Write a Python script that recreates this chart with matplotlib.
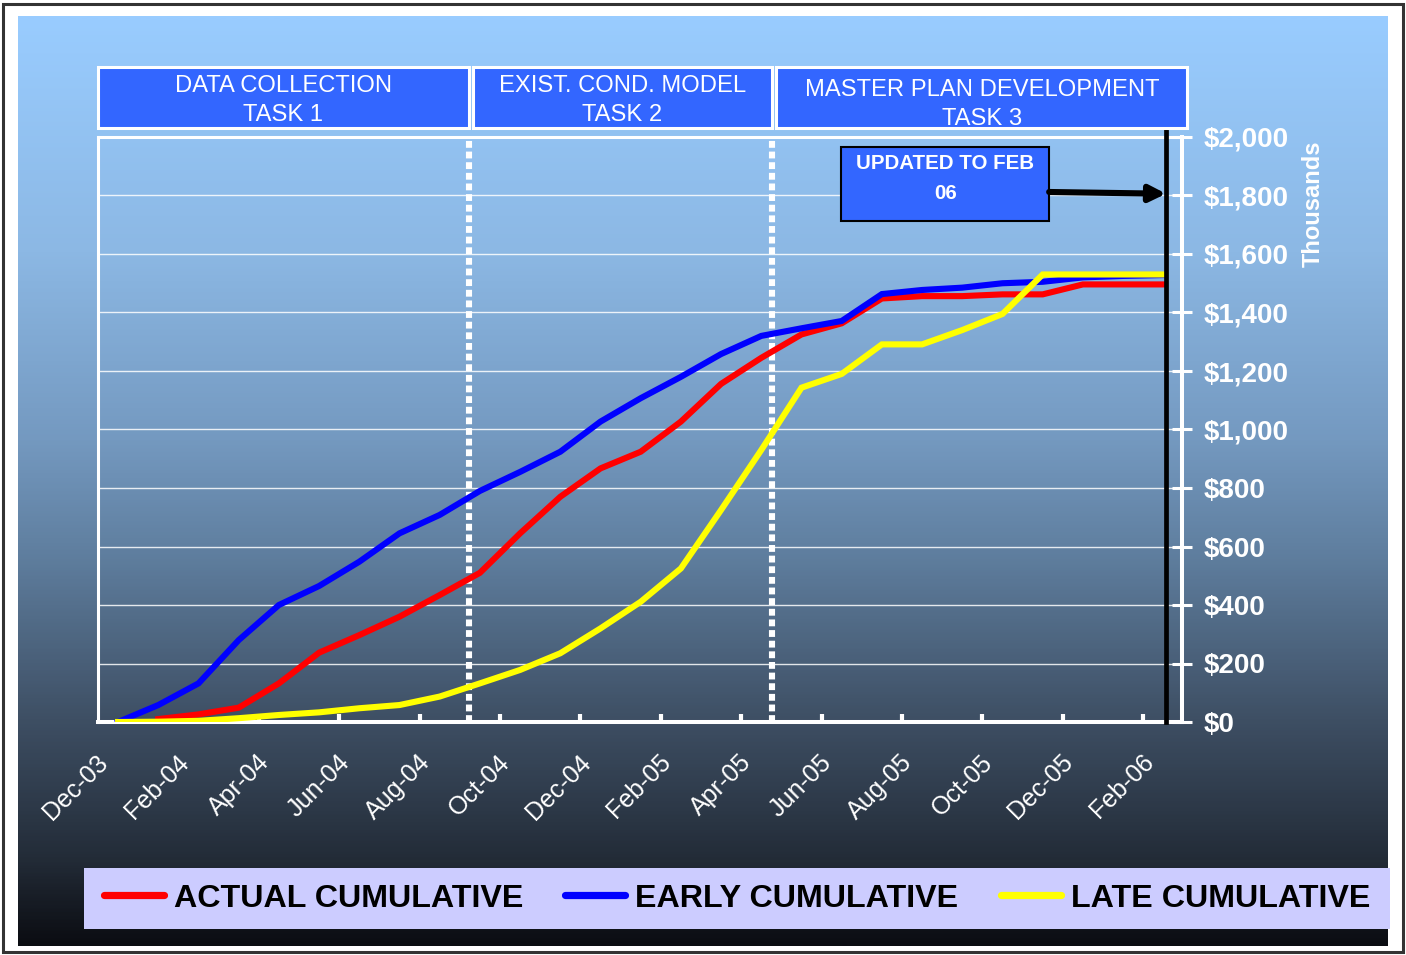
import numpy as np
import matplotlib
matplotlib.use("Agg")
import matplotlib.pyplot as plt
from matplotlib.colors import LinearSegmentedColormap
from matplotlib.patches import Rectangle
from matplotlib.ticker import FuncFormatter, FixedLocator, NullFormatter
from matplotlib.transforms import ScaledTranslation, blended_transform_factory

# ---------------- data: cumulative cost, thousands of dollars ----------------
months = ["Dec-03", "Jan-04", "Feb-04", "Mar-04", "Apr-04", "May-04", "Jun-04",
          "Jul-04", "Aug-04", "Sep-04", "Oct-04", "Nov-04", "Dec-04", "Jan-05",
          "Feb-05", "Mar-05", "Apr-05", "May-05", "Jun-05", "Jul-05", "Aug-05",
          "Sep-05", "Oct-05", "Nov-05", "Dec-05", "Jan-06", "Feb-06"]

actual = [np.nan, 10, 26, 49, 132, 237, 297, 360, 434, 510, 645, 770, 867, 924,
          1027, 1156, 1245, 1325, 1363, 1448, 1456, 1456, 1462, 1462, 1496, 1496, 1496]
early = [0, 58, 132, 280, 400, 465, 548, 645, 708, 790, 855, 924, 1027, 1107,
         1180, 1258, 1320, 1346, 1371, 1463, 1477, 1485, 1500, 1505, 1520, 1525, 1528]
late = [0, 1, 4, 13, 24, 33, 47, 58, 87, 132, 178, 235, 320, 411,
        525, 725, 930, 1143, 1190, 1291, 1291, 1340, 1395, 1530, 1530, 1530, 1530]

series_names = ["ACTUAL CUMULATIVE", "EARLY CUMULATIVE", "LATE CUMULATIVE"]
tick_labels = months[::2]
y_ticks = list(range(0, 2001, 200))

task_labels = ["DATA COLLECTION\nTASK 1",
               "EXIST. COND. MODEL\nTASK 2",
               "MASTER PLAN DEVELOPMENT\nTASK 3"]
status_text = "UPDATED TO FEB\n06"

# ---------------- layout ----------------
W, H = 1406, 955
phase_edges = [-0.51, 8.72, 16.27, 26.60]   # month positions of task boundaries
box_gap = 0.10
status_pos = 26.07                           # data-date marker (months from Dec-03)
SANS = "Liberation Sans"

fig = plt.figure(figsize=(W / 100, H / 100), dpi=100, facecolor="white")

# background panel with vertical gradient and outer frame
bg = fig.add_axes([0, 0, 1, 1], zorder=0)
bg.set_xlim(0, W)
bg.set_ylim(H, 0)
bg.axis("off")
panel_top, panel_bot = 17, 946
stops = [(0.0, "#99CCFF"), (0.251, "#8CB8E4"), (0.455, "#7499C0"),
         (0.585, "#5E7D9D"), (0.757, "#3E4F64"), (0.907, "#232C38"), (1.0, "#0B0D12")]
cmap = LinearSegmentedColormap.from_list("panel", stops)
bg.imshow(np.linspace(0, 1, 600)[:, None], cmap=cmap, aspect="auto",
          extent=(18, 1388, panel_bot, panel_top), interpolation="bilinear")
bg.add_patch(Rectangle((3, 4), 1400, 948, fill=False, ec="#333333", lw=2.2))
# legend backdrop
bg.add_patch(Rectangle((84, 868), 1306, 61, fc="#CCCCFF", ec="none"))

# main plot area
ax = fig.add_axes([98 / W, (H - 722) / H, (1182 - 98) / W, (722 - 137) / H], zorder=2)
ax.set_facecolor("none")
x = np.arange(len(months))
colors = ["#FF0000", "#0000FF", "#FFFF00"]
for vals, c, name in zip([actual, early, late], colors, series_names):
    ax.plot(x, vals, color=c, lw=4.4, label=name, zorder=4, solid_joinstyle="miter")

ax.set_xlim(-0.5, 26.465)
ax.set_ylim(0, 2000)

for s in ax.spines.values():
    s.set_color("white")
    s.set_linewidth(2.2)
ax.spines["bottom"].set_linewidth(2.9)
ax.spines["right"].set_linewidth(2.9)

ax.yaxis.grid(True, color="white", lw=1.0, alpha=0.85, zorder=1)
ax.set_axisbelow(True)

# y axis on the right
ax.yaxis.tick_right()
ax.set_yticks(y_ticks)
ax.yaxis.set_major_formatter(FuncFormatter(lambda v, p: f"${v:,.0f}"))
ax.tick_params(axis="y", which="major", direction="inout", length=14.4, width=2.2,
               color="white", pad=8, labelsize=20, labelcolor="white",
               left=False, right=True)
for lbl in ax.get_yticklabels():
    lbl.set_fontfamily(SANS)
    lbl.set_fontweight("bold")

# x axis: labels every two months, tick marks between categories
ax.set_xticks(x[::2])
ax.xaxis.set_major_formatter(NullFormatter())
ax.xaxis.set_minor_locator(FixedLocator(np.arange(1.5, 26, 2)))
ax.tick_params(axis="x", which="major", length=0)
ax.tick_params(axis="x", which="minor", direction="in", length=6, width=3, color="white")
xlab_trans = blended_transform_factory(ax.transData, ax.transAxes) + \
    ScaledTranslation(-22 / 100, -28 / 100, fig.dpi_scale_trans)
for m, lab in zip(x[::2], tick_labels):
    ax.text(m, 0, lab, transform=xlab_trans, rotation=45, rotation_mode="anchor",
            ha="right", va="top", color="white", fontsize=18, family=SANS,
            clip_on=False)

# phase separators
for edge in phase_edges[1:3]:
    ax.axvline(edge, color="white", lw=4.4, ls=(0, (1.12, 0.62)),
               dash_capstyle="butt", zorder=3)

# data-date marker
ax.axvline(status_pos, ymin=0, ymax=1.0145, color="black", lw=3.4,
           clip_on=False, zorder=6)

# task header boxes
btrans = blended_transform_factory(ax.transData, ax.transAxes)
box_bottom, box_top = 1.0162, 1.1205
text_y = [1.0624, 1.0624, 1.0556]
for i, lab in enumerate(task_labels):
    x0 = phase_edges[i] + (box_gap if i > 0 else 0)
    x1 = phase_edges[i + 1]
    fill = Rectangle((x0, box_bottom), x1 - x0, box_top - box_bottom, transform=btrans,
                     fc="#3366FF", ec="none", clip_on=False, zorder=5)
    ax.add_patch(fill)
    t = ax.text((x0 + x1) / 2, text_y[i], lab, transform=btrans, ha="center",
                va="center", color="white", fontsize=17.1, family=SANS,
                linespacing=1.43, zorder=6)
    t.set_clip_path(fill)
    ax.add_patch(Rectangle((x0, box_bottom), x1 - x0, box_top - box_bottom,
                           transform=btrans, fill=False, ec="white", lw=2.2,
                           clip_on=False, zorder=7))

# status callout
ax.add_patch(Rectangle((17.99, 1713), 23.16 - 17.99, 1966 - 1713, fc="#3366FF",
                       ec="black", lw=1.5, zorder=7))
ax.text(20.58, 1858, status_text, ha="center", va="center", color="white",
        fontsize=14.8, fontweight="bold", family=SANS, linespacing=1.75, zorder=8)
ax.annotate("", xy=(status_pos, 1806), xytext=(23.16, 1812),
            arrowprops=dict(arrowstyle="-|>", color="black", lw=4.4,
                            mutation_scale=24, shrinkA=0, shrinkB=0), zorder=8)

# units label
fig.text(1313 / W, 1 - 204 / H, "Thousands", rotation=90, ha="center", va="center",
         color="white", fontsize=17, fontweight="bold", family=SANS)

# legend
fs = 23.2
fpx = fs * 100 / 72
handles, labels = ax.get_legend_handles_labels()
leg = fig.legend(handles, labels, loc="center",
                 bbox_to_anchor=(737 / W, 1 - 898.5 / H), ncol=3, frameon=False,
                 prop=dict(family=SANS, weight="bold", size=fs),
                 handlelength=60 / fpx, handletextpad=10 / fpx,
                 columnspacing=42 / fpx, borderpad=0)
for ln in leg.get_lines():
    ln.set_linewidth(5.2)
    ln.set_solid_capstyle("round")
for t in leg.get_texts():
    t.set_color("black")

fig.savefig("out.png", dpi=100, facecolor="white")
